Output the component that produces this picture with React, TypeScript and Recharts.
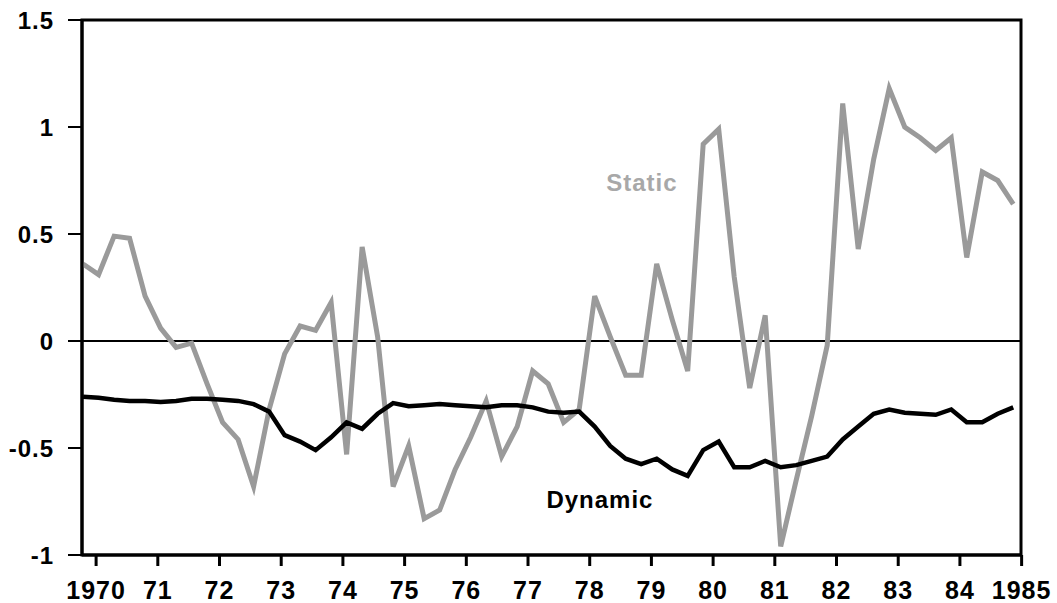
import { LineChart, Line, XAxis, YAxis, ReferenceLine, ReferenceArea, ReferenceDot } from 'recharts'

// quarterly observations, late 1969 to end of 1984
const STATIC = [
  0.36, 0.31, 0.49, 0.48, 0.21, 0.06, -0.03, -0.01, -0.2, -0.38, -0.46, -0.68,
  -0.32, -0.06, 0.07, 0.05, 0.18, -0.53, 0.44, 0.02, -0.68, -0.49, -0.83, -0.79,
  -0.6, -0.45, -0.28, -0.54, -0.4, -0.14, -0.2, -0.38, -0.32, 0.21, 0.02, -0.16,
  -0.16, 0.36, 0.1, -0.14, 0.92, 0.99, 0.3, -0.22, 0.12, -0.96, -0.65, -0.35,
  -0.02, 1.11, 0.43, 0.85, 1.18, 1.0, 0.95, 0.89, 0.95, 0.39, 0.79, 0.75, 0.64,
]

const DYNAMIC = [
  -0.26, -0.265, -0.275, -0.28, -0.28, -0.285, -0.28, -0.27, -0.27, -0.275, -0.28, -0.295,
  -0.33, -0.44, -0.47, -0.51, -0.45, -0.38, -0.41, -0.34, -0.29, -0.305, -0.3, -0.295,
  -0.3, -0.305, -0.31, -0.3, -0.3, -0.31, -0.33, -0.335, -0.33, -0.4, -0.49, -0.55,
  -0.575, -0.55, -0.6, -0.63, -0.51, -0.47, -0.59, -0.59, -0.56, -0.59, -0.58, -0.56,
  -0.54, -0.46, -0.4, -0.34, -0.32, -0.335, -0.34, -0.345, -0.32, -0.38, -0.38, -0.34, -0.31,
]

const YEAR_LABELS = ['1970', '71', '72', '73', '74', '75', '76', '77', '78', '79', '80', '81', '82', '83', '84', '1985']
const Y_TICKS = [-1, -0.5, 0, 0.5, 1, 1.5]

// year ticks sit a little after each quarter index (first obs is just before 1970)
const X_TICKS = YEAR_LABELS.map((_, i) => 0.84 + 3.98 * i)
const X_DOMAIN: [number, number] = [-0.07, 60.5]

const data = STATIC.map((s, i) => ({ q: i, static: s, dynamic: DYNAMIC[i] }))

const font = 'Liberation Sans, Arial, Helvetica, sans-serif'
const xTickStyle = { fill: '#000', fontSize: 25, fontWeight: 'bold', fontFamily: font, letterSpacing: 1 }
const yTickStyle = { fill: '#000', fontSize: 24, fontWeight: 'bold', fontFamily: font, letterSpacing: 1 }

export default function App() {
  return (
    <div style={{ position: 'fixed', left: 0, top: 0, background: '#fff' }}>
      <LineChart width={1057} height={603} data={data} margin={{ top: 20, right: 36, bottom: 0, left: 0 }}>
        <XAxis
          dataKey="q"
          type="number"
          domain={X_DOMAIN}
          ticks={X_TICKS}
          tickFormatter={(v: number) => YEAR_LABELS[X_TICKS.indexOf(v)] ?? ''}
          height={48}
          tick={xTickStyle}
          tickSize={11}
          tickMargin={15}
          axisLine={{ stroke: '#000', strokeWidth: 3 }}
          tickLine={{ stroke: '#000', strokeWidth: 3 }}
          interval={0}
        />
        <YAxis
          type="number"
          domain={[-1, 1.5]}
          ticks={Y_TICKS}
          width={82}
          tick={yTickStyle}
          tickSize={14}
          tickMargin={14}
          axisLine={{ stroke: '#000', strokeWidth: 3 }}
          tickLine={{ stroke: '#000', strokeWidth: 2 }}
          interval={0}
        />
        <ReferenceArea x1={X_DOMAIN[0]} x2={X_DOMAIN[1]} y1={-1} y2={1.5} fill="none" stroke="#000" strokeWidth={3} />
        <ReferenceLine y={0} stroke="#000" strokeWidth={2} />
        <Line
          dataKey="static"
          stroke="#9a9a9a"
          strokeWidth={5}
          dot={false}
          isAnimationActive={false}
        />
        <Line
          dataKey="dynamic"
          stroke="#000"
          strokeWidth={4.5}
          dot={false}
          isAnimationActive={false}
        />
        <ReferenceDot
          x={36.05}
          y={0.74}
          r={0}
          label={{ value: 'Static', position: 'center', fill: '#a8a8a8', fontSize: 24, fontWeight: 'bold', fontFamily: font, letterSpacing: 1 }}
        />
        <ReferenceDot
          x={33.34}
          y={-0.74}
          r={0}
          label={{ value: 'Dynamic', position: 'center', fill: '#000', fontSize: 24, fontWeight: 'bold', fontFamily: font, letterSpacing: 1 }}
        />
      </LineChart>
    </div>
  )
}
